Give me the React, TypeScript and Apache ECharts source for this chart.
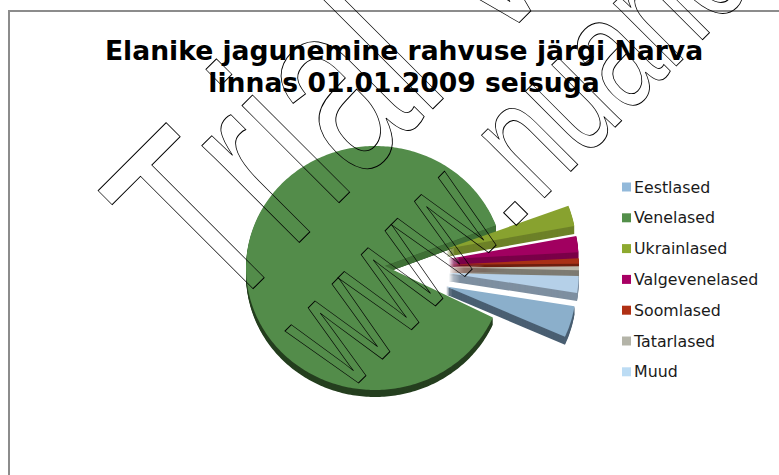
import React, { useEffect, useRef } from "react";
import * as echarts from "echarts";

const TITLE = "Elanike jagunemine rahvuse järgi Narva\nlinnas 01.01.2009 seisuga";
const categories = ["Eestlased", "Venelased", "Ukrainlased", "Valgevenelased", "Soomlased", "Tatarlased", "Muud"];
const shares = [4.1, 87.6, 2.7, 2.1, 0.7, 0.5, 2.2];
const legendColors = ["#92B9DA", "#538F4A", "#8DA92F", "#A80064", "#B03014", "#B4B4A8", "#BCDCF4"];
const topColors = ["#8BAFCB", "#538C4A", "#88A22F", "#A10060", "#A93016", "#BDB9AD", "#B5D0E8"];
const wallColors = ["#4A5F72", "#253F1F", "#6D8128", "#7A0048", "#6F1F0F", "#7D7B72", "#7E8FA0"];
const stacking = [7, 1, 2, 3, 4, 5, 6];

const START_DEG = -9.2;
const PIE_X = 381;
const PIE_Y = 267;
const EXPLODE = 68;
const FONT = '"DejaVu Sans", Verdana, sans-serif';
const MARK_FONT = '"Liberation Sans", Arial, sans-serif';

const total = shares.reduce((a, b) => a + b, 0);
const sliceRange = (i: number) => {
  const before = shares.slice(0, i).reduce((a, b) => a + b, 0);
  const a0 = START_DEG - (before / total) * 360;
  return [a0, a0 - (shares[i] / total) * 360];
};

const renderSlice = (i: number) => (_params: any, api: any) => {
  api.value(0);
  const [a0, a1] = sliceRange(i);
  const mid = (((a0 + a1) / 2) * Math.PI) / 180;
  const isMain = categories[i] === "Venelased";
  const arcX = isMain ? 375 : PIE_X + EXPLODE * Math.cos(mid);
  const arcY = isMain ? 268 : PIE_Y - EXPLODE * Math.sin(mid);
  const rx = isMain ? 129 : 130;
  const ry = isMain ? 122 : 124;
  const depth = isMain ? 7 : 8;
  const apex = isMain ? [385, 266] : [arcX, arcY];
  const pts: number[][] = [apex];
  const steps = Math.max(6, Math.round(Math.abs(a1 - a0)));
  for (let k = 0; k <= steps; k++) {
    const a = ((a0 + ((a1 - a0) * k) / steps) * Math.PI) / 180;
    pts.push([arcX + rx * Math.cos(a), arcY - ry * Math.sin(a)]);
  }
  const children: any[] = [];
  for (let d = depth; d >= 1; d--) {
    children.push({
      type: "polygon",
      shape: { points: pts.map((p) => [p[0], p[1] + d]) },
      style: { fill: wallColors[i] },
    });
  }
  if (isMain) {
    const end = pts[pts.length - 1];
    children.push({
      type: "polygon",
      shape: { points: [apex, end, [end[0], end[1] + depth], [apex[0], apex[1] + depth]] },
      style: { fill: "#3F7036" },
    });
  }
  children.push({ type: "polygon", shape: { points: pts }, style: { fill: topColors[i] } });
  return { type: "group", children };
};

// Outlined diagonal trial mark; (ox, oy) is the start of the text's baseline.
const mark = (text: string, ox: number, oy: number, size: number, squeeze: number) => {
  const up = 0.3465 * size * Math.SQRT1_2;
  return {
    type: "text",
    x: ox - up,
    y: oy - up,
    rotation: Math.PI / 4,
    scaleX: squeeze,
    silent: true,
    z: 100,
    style: {
      text,
      fill: "none",
      stroke: "#000000",
      lineWidth: 1,
      font: `${size}px ${MARK_FONT}`,
      align: "left",
      verticalAlign: "middle",
    },
  };
};

const along = (ox: number, oy: number, dist: number): [number, number] => [
  ox + dist * Math.SQRT1_2,
  oy - dist * Math.SQRT1_2,
];

export default function App() {
  const ref = useRef<HTMLDivElement>(null);
  useEffect(() => {
    const chart = echarts.init(ref.current!, undefined, { renderer: "svg" });
    const [lx, ly] = [348, 394];
    chart.setOption({
      animation: false,
      backgroundColor: "#ffffff",
      color: legendColors,
      title: {
        text: TITLE,
        left: 399,
        top: 29,
        textAlign: "center",
        textStyle: { fontFamily: FONT, fontSize: 26.6, fontWeight: "bold", color: "#000000", lineHeight: 32 },
      },
      legend: {
        orient: "vertical",
        left: 622,
        top: 179,
        padding: 0,
        icon: "rect",
        itemWidth: 9,
        itemHeight: 9,
        itemGap: 14.8,
        data: categories,
        selectedMode: false,
        textStyle: { fontFamily: FONT, fontSize: 15.8, lineHeight: 16, color: "#1a1a1a", padding: [0, 0, 0, -2] },
      },
      graphic: {
        elements: [
          { type: "line", silent: true, z: 0, shape: { x1: 9, y1: 11, x2: 779, y2: 11 }, style: { stroke: "#8c8c8c", lineWidth: 2 } },
          { type: "line", silent: true, z: 0, shape: { x1: 9, y1: 10, x2: 9, y2: 475 }, style: { stroke: "#8c8c8c", lineWidth: 2 } },
          mark("Trial Version", 222, 320, 260, 0.655),
          mark("www", lx, ly, 168, 0.62),
          mark(".", ...along(lx, ly, 223), 168, 1),
          mark("nuance.com", ...along(lx, ly, 270), 168, 0.665),
        ],
      },
      series: categories.map((name, i) => ({
        type: "custom",
        name,
        coordinateSystem: "none",
        z: stacking[i],
        silent: true,
        itemStyle: { color: legendColors[i] },
        renderItem: renderSlice(i),
        data: [shares[i]],
      })),
    });
    return () => chart.dispose();
  }, []);
  return <div ref={ref} style={{ position: "absolute", left: 0, top: 0, width: 779, height: 475 }} />;
}
